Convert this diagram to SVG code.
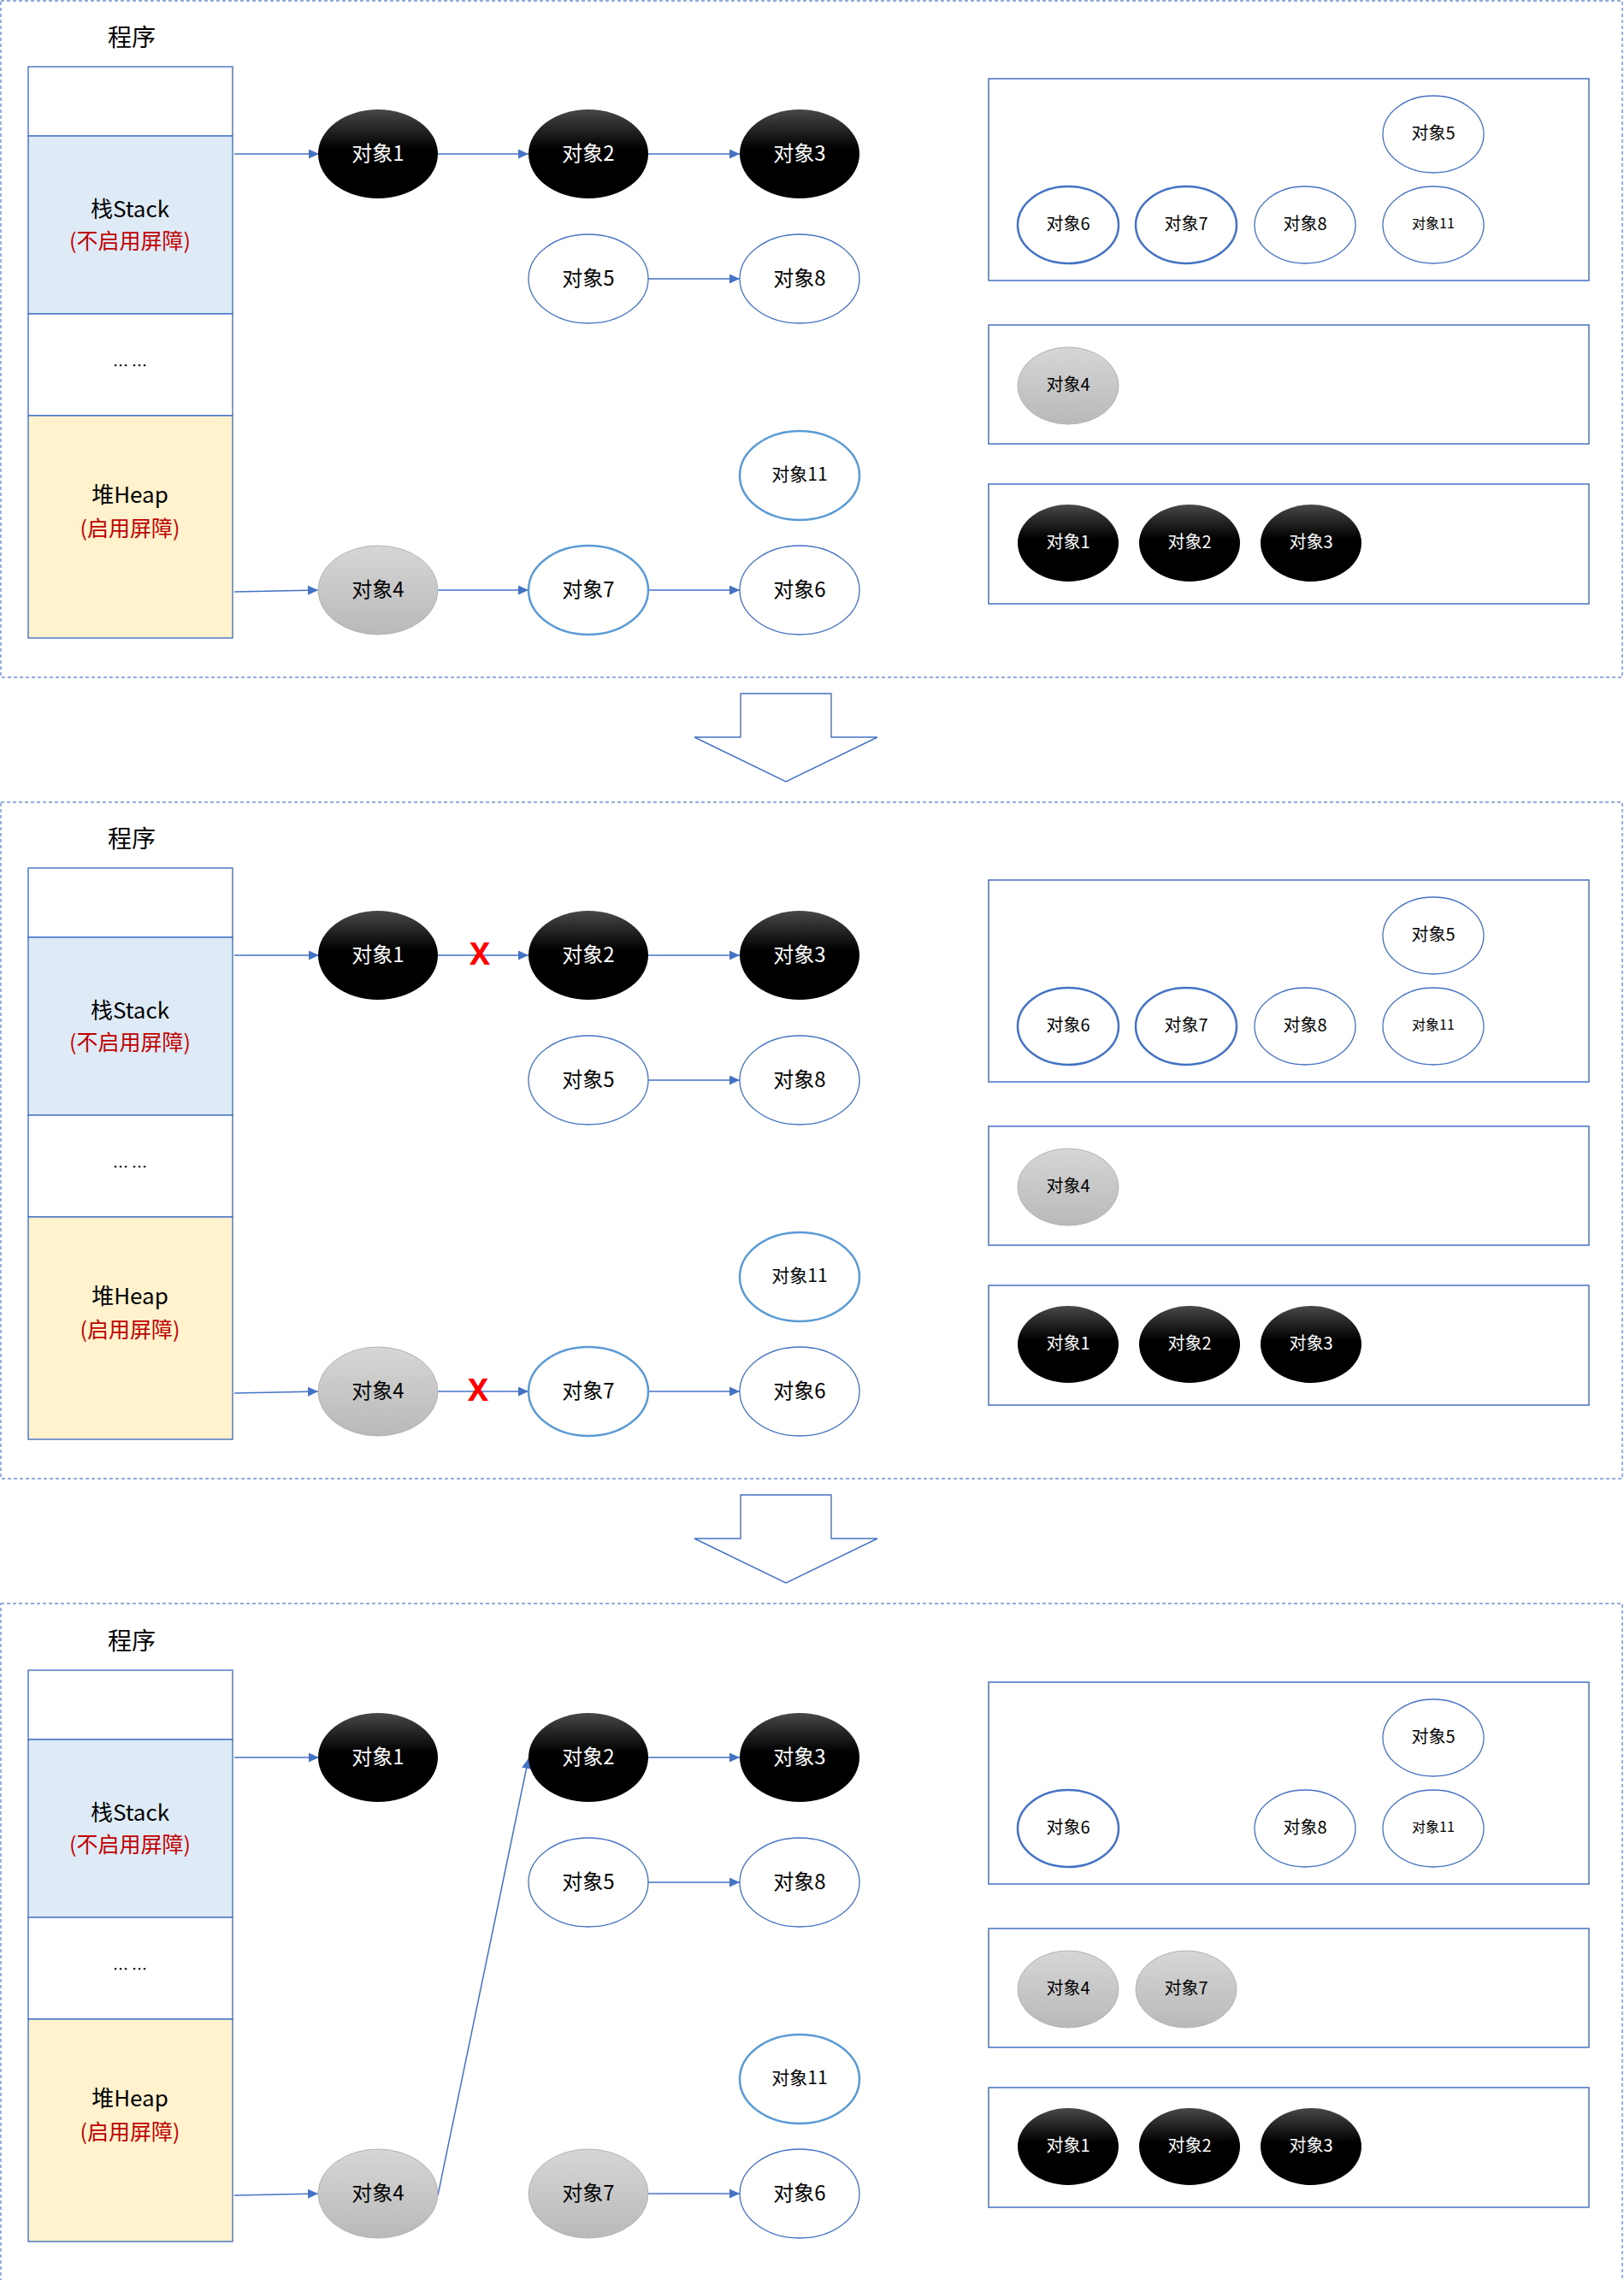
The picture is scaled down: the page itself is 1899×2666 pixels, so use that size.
<svg xmlns="http://www.w3.org/2000/svg" width="1899" height="2666" viewBox="0 0 1899 2666">
<defs>
<linearGradient id="gBlack" x1="0" y1="0" x2="0" y2="1">
<stop offset="0" stop-color="#484848"/>
<stop offset="0.45" stop-color="#000"/>
<stop offset="1" stop-color="#000"/>
</linearGradient>
<linearGradient id="gGray" x1="0" y1="0" x2="0" y2="1">
<stop offset="0" stop-color="#d6d6d6"/>
<stop offset="1" stop-color="#b9b9b9"/>
</linearGradient>
<marker id="arr" markerUnits="userSpaceOnUse" markerWidth="13" markerHeight="12" refX="12" refY="5.5" orient="auto">
<path d="M0,0 L12,5.5 L0,11 z" fill="#4472c4"/>
</marker>
</defs>
<style>
.panel{fill:none;stroke:#6d91d4;stroke-width:1.4;stroke-dasharray:4 3}
.col{stroke:#4472c4;stroke-width:1.4}
.blk{fill:url(#gBlack)}
.gry{fill:url(#gGray);stroke:#b3b3b3;stroke-width:1}
.wt{fill:#fff;stroke:#4472c4;stroke-width:1.3}
.wl{fill:#fff;stroke:#5b9bd5;stroke-width:2.5}
.wd{fill:#fff;stroke:#4472c4;stroke-width:2.5}
.box{fill:#fff;stroke:#4472c4;stroke-width:1.5}
.conn{stroke:#4472c4;stroke-width:1.5;fill:none;marker-end:url(#arr)}
.darr{fill:#fff;stroke:#4472c4;stroke-width:1.4}
text{font-family:"Noto Sans CJK SC","Noto Sans",sans-serif;text-anchor:middle;dominant-baseline:central;transform:translateY(-3px)}
.w{fill:#fff;font-size:24px}
.b{fill:#000;font-size:24px}
.b11{fill:#000;font-size:21px}
.rw{fill:#fff;font-size:20px}
.rb{fill:#000;font-size:20px}
.rb11{fill:#000;font-size:16px}
.title{font-size:28px;fill:#000}
.mem{font-size:26px;fill:#000}
.red{font-size:25px;fill:#c00000}
.dots{font-size:18px;fill:#000}
.x{font-family:"Noto Sans","Liberation Sans",sans-serif;font-weight:bold;font-size:36px;fill:#ff0000}
</style>

<!-- panel borders -->
<g id="panel-borders">
<rect class="panel" x="1" y="1" width="1896" height="791"/>
<rect class="panel" x="1" y="938" width="1896" height="791"/>
<rect class="panel" x="1" y="1875" width="1896" height="800"/>
</g>

<!-- down arrows -->
<g id="down-arrows">
<polygon class="darr" points="866,811 972,811 972,862 1026,862 919,914 812,862 866,862"/>
<polygon class="darr" points="866,1748 972,1748 972,1799 1026,1799 919,1851 812,1799 866,1799"/>
</g>

<!-- ================= PANEL 1 ================= -->
<g id="p1" transform="translate(0,0)">
<g id="p1-memory">
<text class="title" x="154" y="45">程序</text>
<rect class="col" x="33" y="78" width="239" height="81" fill="#fff"/>
<rect class="col" x="33" y="159" width="239" height="208" fill="#deebf7"/>
<rect class="col" x="33" y="367" width="239" height="119" fill="#fff"/>
<rect class="col" x="33" y="486" width="239" height="260" fill="#fff2cc"/>
<text class="mem" x="152" y="245">栈Stack</text>
<text class="red" x="152" y="283">(不启用屏障)</text>
<text class="dots" x="152" y="429">… …</text>
<text class="mem" x="152" y="579">堆Heap</text>
<text class="red" x="152" y="619">(启用屏障)</text>
</g>
<g id="p1-connectors">
<line class="conn" x1="274" y1="180" x2="373" y2="180"/>
<line class="conn" x1="512" y1="180" x2="618" y2="180"/>
<line class="conn" x1="758" y1="180" x2="865" y2="180"/>
<line class="conn" x1="758" y1="326" x2="865" y2="326"/>
<line class="conn" x1="274" y1="692" x2="372" y2="690"/>
<line class="conn" x1="512" y1="690" x2="618" y2="690"/>
<line class="conn" x1="758" y1="690" x2="865" y2="690"/>
</g>
<g id="p1-obj1"><ellipse class="blk" cx="442" cy="180" rx="70" ry="52"/><text class="w" x="442" y="180">对象1</text></g>
<g id="p1-obj2"><ellipse class="blk" cx="688" cy="180" rx="70" ry="52"/><text class="w" x="688" y="180">对象2</text></g>
<g id="p1-obj3"><ellipse class="blk" cx="935" cy="180" rx="70" ry="52"/><text class="w" x="935" y="180">对象3</text></g>
<g id="p1-obj5"><ellipse class="wt" cx="688" cy="326" rx="70" ry="52"/><text class="b" x="688" y="326">对象5</text></g>
<g id="p1-obj8"><ellipse class="wt" cx="935" cy="326" rx="70" ry="52"/><text class="b" x="935" y="326">对象8</text></g>
<g id="p1-obj11"><ellipse class="wl" cx="935" cy="556" rx="70" ry="52"/><text class="b11" x="935" y="556">对象11</text></g>
<g id="p1-obj4"><ellipse class="gry" cx="442" cy="690" rx="70" ry="52"/><text class="b" x="442" y="690">对象4</text></g>
<g id="p1-obj7"><ellipse class="wl" cx="688" cy="690" rx="70" ry="52"/><text class="b" x="688" y="690">对象7</text></g>
<g id="p1-obj6"><ellipse class="wt" cx="935" cy="690" rx="70" ry="52"/><text class="b" x="935" y="690">对象6</text></g>

<g id="p1-white-set">
<rect class="box" x="1156" y="92" width="702" height="236"/>
<ellipse class="wt" cx="1676" cy="157" rx="59" ry="45"/><text class="rb" x="1676" y="157">对象5</text>
<ellipse class="wd" cx="1249" cy="263" rx="59" ry="45"/><text class="rb" x="1249" y="263">对象6</text>
<ellipse class="wd" cx="1387" cy="263" rx="59" ry="45"/><text class="rb" x="1387" y="263">对象7</text>
<ellipse class="wt" cx="1526" cy="263" rx="59" ry="45"/><text class="rb" x="1526" y="263">对象8</text>
<ellipse class="wt" cx="1676" cy="263" rx="59" ry="45"/><text class="rb11" x="1676" y="263">对象11</text>
</g>
<g id="p1-gray-set">
<rect class="box" x="1156" y="380" width="702" height="139"/>
<ellipse class="gry" cx="1249" cy="451" rx="59" ry="45"/><text class="rb" x="1249" y="451">对象4</text>
</g>
<g id="p1-black-set">
<rect class="box" x="1156" y="566" width="702" height="140"/>
<ellipse class="blk" cx="1249" cy="635" rx="59" ry="45"/><text class="rw" x="1249" y="635">对象1</text>
<ellipse class="blk" cx="1391" cy="635" rx="59" ry="45"/><text class="rw" x="1391" y="635">对象2</text>
<ellipse class="blk" cx="1533" cy="635" rx="59" ry="45"/><text class="rw" x="1533" y="635">对象3</text>
</g>
</g>

<!-- ================= PANEL 2 ================= -->
<g id="p2" transform="translate(0,937)">
<g id="p2-memory">
<text class="title" x="154" y="45">程序</text>
<rect class="col" x="33" y="78" width="239" height="81" fill="#fff"/>
<rect class="col" x="33" y="159" width="239" height="208" fill="#deebf7"/>
<rect class="col" x="33" y="367" width="239" height="119" fill="#fff"/>
<rect class="col" x="33" y="486" width="239" height="260" fill="#fff2cc"/>
<text class="mem" x="152" y="245">栈Stack</text>
<text class="red" x="152" y="283">(不启用屏障)</text>
<text class="dots" x="152" y="429">… …</text>
<text class="mem" x="152" y="579">堆Heap</text>
<text class="red" x="152" y="619">(启用屏障)</text>
</g>
<g id="p2-connectors">
<line class="conn" x1="274" y1="180" x2="373" y2="180"/>
<line class="conn" x1="512" y1="180" x2="618" y2="180"/>
<line class="conn" x1="758" y1="180" x2="865" y2="180"/>
<line class="conn" x1="758" y1="326" x2="865" y2="326"/>
<line class="conn" x1="274" y1="692" x2="372" y2="690"/>
<line class="conn" x1="512" y1="690" x2="618" y2="690"/>
<line class="conn" x1="758" y1="690" x2="865" y2="690"/>
<text class="x" x="561" y="180">X</text>
<text class="x" x="559" y="690">X</text>
</g>
<g id="p2-obj1"><ellipse class="blk" cx="442" cy="180" rx="70" ry="52"/><text class="w" x="442" y="180">对象1</text></g>
<g id="p2-obj2"><ellipse class="blk" cx="688" cy="180" rx="70" ry="52"/><text class="w" x="688" y="180">对象2</text></g>
<g id="p2-obj3"><ellipse class="blk" cx="935" cy="180" rx="70" ry="52"/><text class="w" x="935" y="180">对象3</text></g>
<g id="p2-obj5"><ellipse class="wt" cx="688" cy="326" rx="70" ry="52"/><text class="b" x="688" y="326">对象5</text></g>
<g id="p2-obj8"><ellipse class="wt" cx="935" cy="326" rx="70" ry="52"/><text class="b" x="935" y="326">对象8</text></g>
<g id="p2-obj11"><ellipse class="wl" cx="935" cy="556" rx="70" ry="52"/><text class="b11" x="935" y="556">对象11</text></g>
<g id="p2-obj4"><ellipse class="gry" cx="442" cy="690" rx="70" ry="52"/><text class="b" x="442" y="690">对象4</text></g>
<g id="p2-obj7"><ellipse class="wl" cx="688" cy="690" rx="70" ry="52"/><text class="b" x="688" y="690">对象7</text></g>
<g id="p2-obj6"><ellipse class="wt" cx="935" cy="690" rx="70" ry="52"/><text class="b" x="935" y="690">对象6</text></g>

<g id="p2-white-set">
<rect class="box" x="1156" y="92" width="702" height="236"/>
<ellipse class="wt" cx="1676" cy="157" rx="59" ry="45"/><text class="rb" x="1676" y="157">对象5</text>
<ellipse class="wd" cx="1249" cy="263" rx="59" ry="45"/><text class="rb" x="1249" y="263">对象6</text>
<ellipse class="wd" cx="1387" cy="263" rx="59" ry="45"/><text class="rb" x="1387" y="263">对象7</text>
<ellipse class="wt" cx="1526" cy="263" rx="59" ry="45"/><text class="rb" x="1526" y="263">对象8</text>
<ellipse class="wt" cx="1676" cy="263" rx="59" ry="45"/><text class="rb11" x="1676" y="263">对象11</text>
</g>
<g id="p2-gray-set">
<rect class="box" x="1156" y="380" width="702" height="139"/>
<ellipse class="gry" cx="1249" cy="451" rx="59" ry="45"/><text class="rb" x="1249" y="451">对象4</text>
</g>
<g id="p2-black-set">
<rect class="box" x="1156" y="566" width="702" height="140"/>
<ellipse class="blk" cx="1249" cy="635" rx="59" ry="45"/><text class="rw" x="1249" y="635">对象1</text>
<ellipse class="blk" cx="1391" cy="635" rx="59" ry="45"/><text class="rw" x="1391" y="635">对象2</text>
<ellipse class="blk" cx="1533" cy="635" rx="59" ry="45"/><text class="rw" x="1533" y="635">对象3</text>
</g>
</g>

<!-- ================= PANEL 3 ================= -->
<g id="p3" transform="translate(0,1875)">
<g id="p3-memory">
<text class="title" x="154" y="45">程序</text>
<rect class="col" x="33" y="78" width="239" height="81" fill="#fff"/>
<rect class="col" x="33" y="159" width="239" height="208" fill="#deebf7"/>
<rect class="col" x="33" y="367" width="239" height="119" fill="#fff"/>
<rect class="col" x="33" y="486" width="239" height="260" fill="#fff2cc"/>
<text class="mem" x="152" y="245">栈Stack</text>
<text class="red" x="152" y="283">(不启用屏障)</text>
<text class="dots" x="152" y="429">… …</text>
<text class="mem" x="152" y="579">堆Heap</text>
<text class="red" x="152" y="619">(启用屏障)</text>
</g>
<g id="p3-connectors">
<line class="conn" x1="274" y1="180" x2="373" y2="180"/>
<line class="conn" x1="758" y1="180" x2="865" y2="180"/>
<line class="conn" x1="758" y1="326" x2="865" y2="326"/>
<line class="conn" x1="274" y1="692" x2="372" y2="690"/>
<line class="conn" x1="512" y1="692" x2="618" y2="181"/>
<line class="conn" x1="758" y1="690" x2="865" y2="690"/>
</g>
<g id="p3-obj1"><ellipse class="blk" cx="442" cy="180" rx="70" ry="52"/><text class="w" x="442" y="180">对象1</text></g>
<g id="p3-obj2"><ellipse class="blk" cx="688" cy="180" rx="70" ry="52"/><text class="w" x="688" y="180">对象2</text></g>
<g id="p3-obj3"><ellipse class="blk" cx="935" cy="180" rx="70" ry="52"/><text class="w" x="935" y="180">对象3</text></g>
<g id="p3-obj5"><ellipse class="wt" cx="688" cy="326" rx="70" ry="52"/><text class="b" x="688" y="326">对象5</text></g>
<g id="p3-obj8"><ellipse class="wt" cx="935" cy="326" rx="70" ry="52"/><text class="b" x="935" y="326">对象8</text></g>
<g id="p3-obj11"><ellipse class="wl" cx="935" cy="556" rx="70" ry="52"/><text class="b11" x="935" y="556">对象11</text></g>
<g id="p3-obj4"><ellipse class="gry" cx="442" cy="690" rx="70" ry="52"/><text class="b" x="442" y="690">对象4</text></g>
<g id="p3-obj7"><ellipse class="gry" cx="688" cy="690" rx="70" ry="52"/><text class="b" x="688" y="690">对象7</text></g>
<g id="p3-obj6"><ellipse class="wt" cx="935" cy="690" rx="70" ry="52"/><text class="b" x="935" y="690">对象6</text></g>

<g id="p3-white-set">
<rect class="box" x="1156" y="92" width="702" height="236"/>
<ellipse class="wt" cx="1676" cy="157" rx="59" ry="45"/><text class="rb" x="1676" y="157">对象5</text>
<ellipse class="wd" cx="1249" cy="263" rx="59" ry="45"/><text class="rb" x="1249" y="263">对象6</text>
<ellipse class="wt" cx="1526" cy="263" rx="59" ry="45"/><text class="rb" x="1526" y="263">对象8</text>
<ellipse class="wt" cx="1676" cy="263" rx="59" ry="45"/><text class="rb11" x="1676" y="263">对象11</text>
</g>
<g id="p3-gray-set">
<rect class="box" x="1156" y="380" width="702" height="139"/>
<ellipse class="gry" cx="1249" cy="451" rx="59" ry="45"/><text class="rb" x="1249" y="451">对象4</text>
<ellipse class="gry" cx="1387" cy="451" rx="59" ry="45"/><text class="rb" x="1387" y="451">对象7</text>
</g>
<g id="p3-black-set">
<rect class="box" x="1156" y="566" width="702" height="140"/>
<ellipse class="blk" cx="1249" cy="635" rx="59" ry="45"/><text class="rw" x="1249" y="635">对象1</text>
<ellipse class="blk" cx="1391" cy="635" rx="59" ry="45"/><text class="rw" x="1391" y="635">对象2</text>
<ellipse class="blk" cx="1533" cy="635" rx="59" ry="45"/><text class="rw" x="1533" y="635">对象3</text>
</g>
</g>
</svg>
